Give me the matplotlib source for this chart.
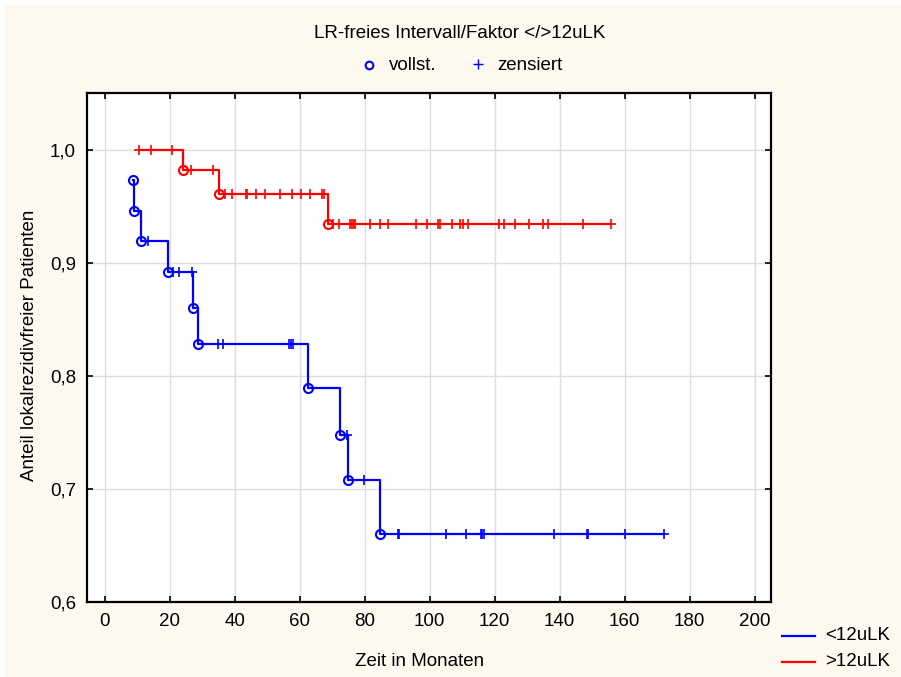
import numpy as np
import matplotlib
matplotlib.use("Agg")
import matplotlib.pyplot as plt
from matplotlib.lines import Line2D
from matplotlib.ticker import FuncFormatter

plt.rcParams["font.family"] = ["Liberation Sans", "DejaVu Sans"]

# Group <12uLK: event times (months), survival after each event, censored times
low_event_times = [8.9, 9.0, 11.3, 19.4, 27.3, 28.8, 62.6, 72.3, 74.8, 84.7]
low_surv = [0.973, 0.946, 0.919, 0.892, 0.860, 0.828, 0.789, 0.748, 0.708, 0.660]
low_censor_times = [13.5, 21.2, 23.0, 27.0, 35.0, 36.4, 56.8, 57.4, 58.0, 74.5,
                    79.8, 90.4, 90.7, 105.1, 111.2, 115.8, 116.2, 116.6, 138.4,
                    148.4, 148.8, 160.0, 172.2]

# Group >12uLK
high_event_times = [24.1, 35.1, 68.6]
high_surv = [0.982, 0.961, 0.934]
high_censor_times = [10.7, 14.3, 20.7, 26.6, 33.5, 37.1, 39.1, 43.4, 43.9, 46.5,
                     49.4, 54.0, 57.6, 60.4, 63.2, 66.8, 67.6, 70.4, 72.2, 75.5,
                     76.1, 76.6, 77.1, 81.7, 84.8, 87.3, 95.8, 99.1, 102.7, 103.2,
                     106.8, 109.4, 110.4, 111.8, 121.2, 122.8, 126.1, 130.5, 134.9,
                     136.5, 147.2, 155.9]

group_labels = ["<12uLK", ">12uLK"]
group_colors = ["#0000ff", "#ff0000"]
marker_labels = ["vollst.", "zensiert"]

title_text = "LR-freies Intervall/Faktor </>12uLK"
x_label = "Zeit in Monaten"
y_label = "Anteil lokalrezidivfreier Patienten"
x_ticks = [0, 20, 40, 60, 80, 100, 120, 140, 160, 180, 200]
y_ticks = [0.6, 0.7, 0.8, 0.9, 1.0]

BG = "#fdf9ef"
FS = 13.5
W, H = 901, 677


def fx(px):
    return px / W


def fy(py):
    return 1 - py / H


def surv_at(t, ev_t, ev_s):
    """Kaplan-Meier value just after time t."""
    idx = np.searchsorted(np.asarray(ev_t), t, side="right") - 1
    return 1.0 if idx < 0 else ev_s[idx]


def draw_group(ax, ev_t, ev_s, cens_t, color):
    t0 = min(ev_t[0], cens_t[0])
    t1 = max(ev_t[-1], cens_t[-1])
    xs = [t0] + [t for t in ev_t if t > t0] + [t1]
    ys = [surv_at(t0, ev_t, ev_s)] + [s for t, s in zip(ev_t, ev_s) if t > t0] + [ev_s[-1]]
    ax.plot(xs, ys, drawstyle="steps-post", color=color, lw=1.6, zorder=3)
    ax.plot(ev_t, ev_s, ls="none", marker="o", mfc="none", mec=color,
            mew=1.5, ms=6.5, zorder=4)
    cy = [surv_at(t, ev_t, ev_s) for t in cens_t]
    ax.plot(cens_t, cy, ls="none", marker="+", color=color, mew=1.2, ms=7,
            zorder=4)


fig = plt.figure(figsize=(W / 100, H / 100), dpi=100)
fig.patch.set_facecolor("white")
fig.add_artist(plt.Rectangle((fx(5), 0), 1, fy(5), transform=fig.transFigure,
                             facecolor=BG, edgecolor="none", zorder=-10))

ax = fig.add_axes([fx(87), fy(602), (771 - 87) / W, (602 - 93) / H])
ax.set_facecolor("white")

draw_group(ax, low_event_times, low_surv, low_censor_times, group_colors[0])
draw_group(ax, high_event_times, high_surv, high_censor_times, group_colors[1])

ax.set_xlim(-5.4, 205)
ax.set_ylim(0.6, 1.05)
ax.set_xticks(x_ticks)
ax.set_yticks(y_ticks)
ax.yaxis.set_major_formatter(FuncFormatter(lambda v, p: f"{v:.1f}".replace(".", ",")))
ax.grid(True, color="#dddddd", lw=1)
ax.set_axisbelow(True)
ax.tick_params(direction="in", length=4, width=1.2, labelsize=FS,
               top=True, right=True, pad=8)
for s in ax.spines.values():
    s.set_linewidth(1.6)
    s.set_color("black")

# Axis titles and chart title
fig.text(fx(420), fy(662), x_label, ha="center", va="center", fontsize=FS)
fig.text(fx(30), fy(345), y_label, ha="center", va="center",
         rotation=90, fontsize=FS)
fig.text(fx(460), fy(33), title_text, ha="center", va="center", fontsize=FS)

# Marker key under the title
fig.add_artist(Line2D([fx(369)], [fy(65)], transform=fig.transFigure, ls="none",
                      marker="o", mfc="none", mec="#0000ff", mew=1.5, ms=5.5))
fig.text(fx(389), fy(65), marker_labels[0], ha="left", va="center", fontsize=FS)
fig.add_artist(Line2D([fx(478)], [fy(64)], transform=fig.transFigure, ls="none",
                      marker="+", color="#0000ff", mew=1.0, ms=7))
fig.text(fx(497), fy(65), marker_labels[1], ha="left", va="center", fontsize=FS)

# Group key in the lower right corner
for yy, lab, col in zip([636, 662], group_labels, group_colors):
    fig.add_artist(Line2D([fx(782), fx(815)], [fy(yy), fy(yy)],
                          transform=fig.transFigure, color=col, lw=1.6))
    fig.text(fx(825), fy(yy), lab, ha="left", va="center", fontsize=FS)

fig.savefig("out.png", dpi=100, facecolor=fig.get_facecolor())
